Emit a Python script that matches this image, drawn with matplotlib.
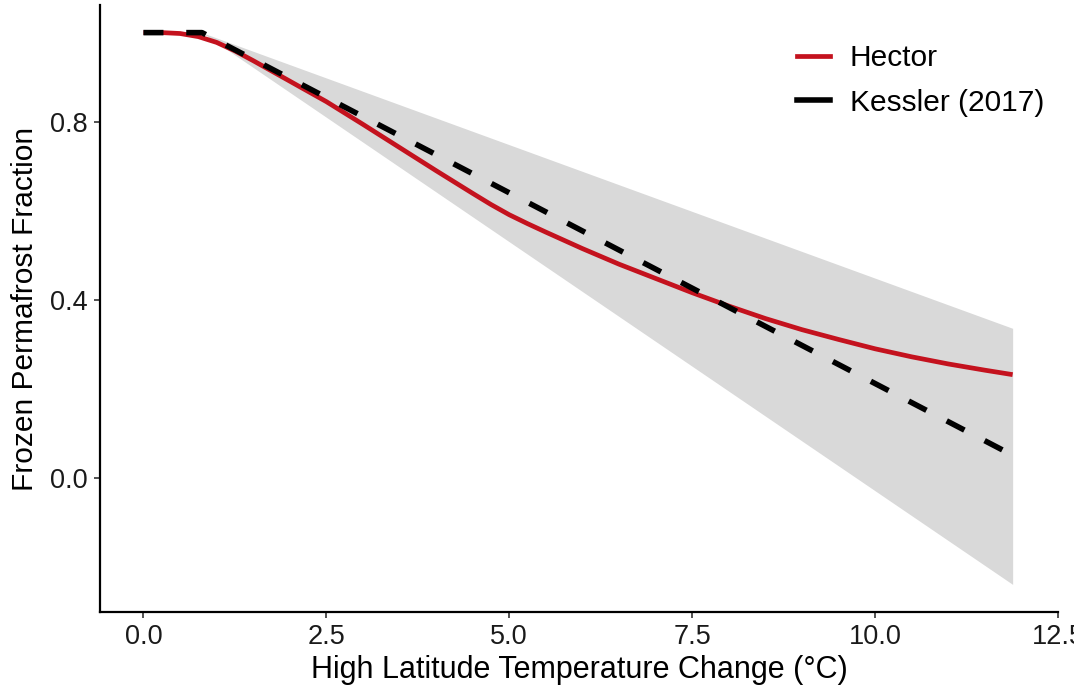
import matplotlib
matplotlib.use("Agg")
import matplotlib.pyplot as plt
from matplotlib.lines import Line2D

plt.rcParams['font.family'] = ['Liberation Sans', 'DejaVu Sans']

# Hector curve
hector_x = [0.0, 0.25, 0.5, 0.75, 1.0, 1.25, 1.5, 1.75, 2.0, 2.5, 3.0, 3.5, 4.0, 4.5, 4.75,
            5.0, 5.25, 5.5, 6.0, 6.5, 7.0, 7.5, 8.0, 8.5, 9.0, 9.5, 10.0, 10.5, 11.0,
            11.5, 11.88]
hector_y = [1.0, 1.0, 0.998, 0.991, 0.978, 0.959, 0.937, 0.914, 0.891, 0.845, 0.794, 0.742,
            0.690, 0.639, 0.614, 0.591, 0.571, 0.552, 0.515, 0.480, 0.448, 0.416, 0.386,
            0.358, 0.333, 0.311, 0.290, 0.272, 0.256, 0.242, 0.232]

# Kessler (2017) piecewise-linear parameterisation
kessler_x = [0.0, 0.8, 11.88]
kessler_y = [1.0, 1.0, 0.051]

# Uncertainty band of Kessler (2017)
band_x = [0.0, 0.8, 11.88]
band_lo = [1.0, 1.0, -0.239]
band_hi = [1.0, 1.0, 0.336]

xticks = [0.0, 2.5, 5.0, 7.5, 10.0, 12.5]
xticklabels = ["0.0", "2.5", "5.0", "7.5", "10.0", "12.5"]
yticks = [0.0, 0.4, 0.8]
yticklabels = ["0.0", "0.4", "0.8"]

W, H = 1074, 690
fig = plt.figure(figsize=(W / 100, H / 100), dpi=100)
ax = fig.add_axes([100 / W, 1 - 612 / H, (1058 - 100) / W, (612 - 5) / H])

red = "#C4121E"
ax.fill_between(band_x, band_lo, band_hi, color="#D9D9D9", linewidth=0, zorder=1)
ax.plot(hector_x, hector_y, color=red, linewidth=3.4, zorder=3,
        solid_capstyle="butt", solid_joinstyle="round")
ax.plot(kessler_x, kessler_y, color="black", linewidth=4.0, zorder=4,
        linestyle=(0, (3.6, 4.1)), dash_capstyle="butt")

ax.set_xlim(-0.594, 12.47)
ax.set_ylim(-0.301, 1.062)
ax.set_xticks(xticks)
ax.set_xticklabels(xticklabels)
ax.set_yticks(yticks)
ax.set_yticklabels(yticklabels)

for s in ["top", "right"]:
    ax.spines[s].set_visible(False)
for s in ["left", "bottom"]:
    ax.spines[s].set_linewidth(1.6)
    ax.spines[s].set_color("black")
ax.tick_params(axis="both", length=4, width=1.2, color="#333333",
               labelsize=19.5, labelcolor="#1a1a1a", pad=5)

ax.set_xlabel("High Latitude Temperature Change (°C)", fontsize=22, labelpad=3)
ax.set_ylabel("Frozen Permafrost Fraction", fontsize=21.5, labelpad=8)

handles = [Line2D([0], [0], color=red, linewidth=3.4),
           Line2D([0], [0], color="black", linewidth=4.0)]
leg = ax.legend(handles, ["Hector", "Kessler (2017)"], loc="upper left",
                bbox_to_anchor=(797 / W, 1 - 44 / H), bbox_transform=fig.transFigure,
                frameon=False, fontsize=21.5, handlelength=1.1, handletextpad=0.66,
                labelspacing=0.56, borderaxespad=0, borderpad=0)

fig.savefig("out.png", dpi=100)
